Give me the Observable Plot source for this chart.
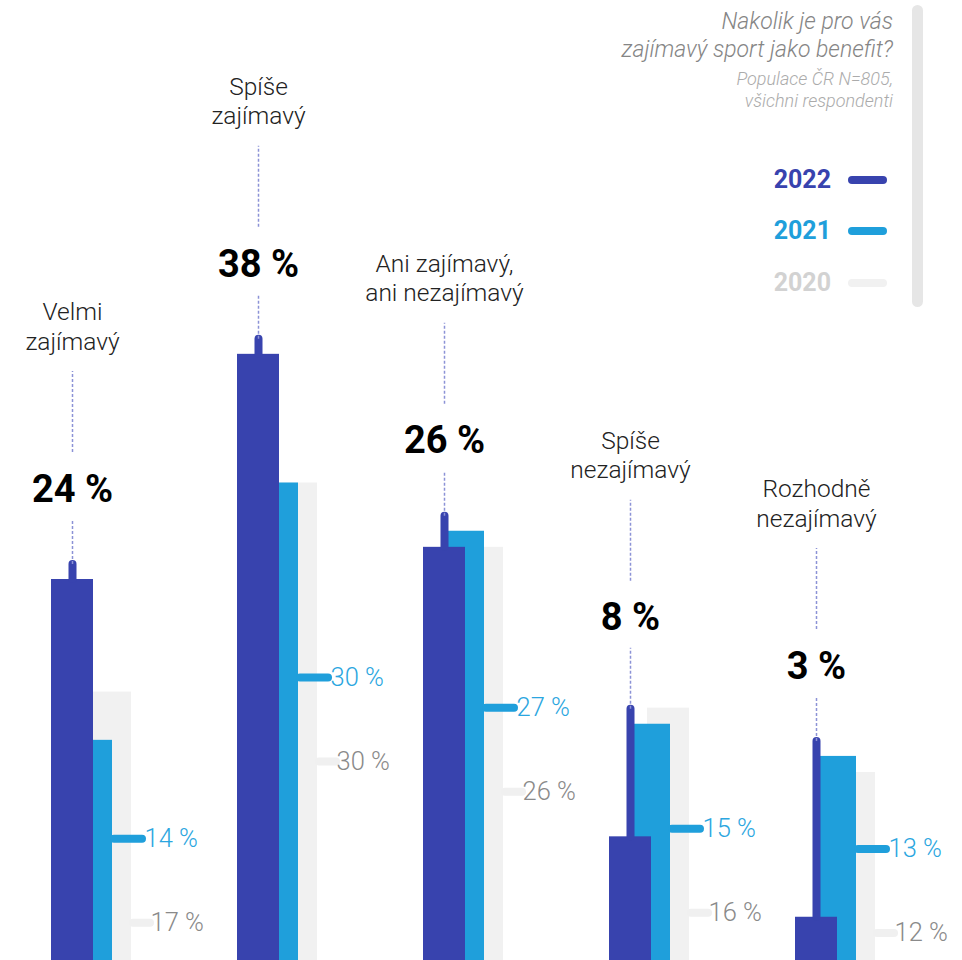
<!DOCTYPE html>
<html>
<head>
<meta charset="utf-8">
<script src="https://cdn.jsdelivr.net/npm/d3@7"></script>
<script src="https://cdn.jsdelivr.net/npm/@observablehq/plot@0.6"></script>
<style>
  html, body { margin: 0; padding: 0; background: #fff; }
  #wrap { position: relative; width: 962px; height: 960px; overflow: hidden; font-family: Roboto, sans-serif; }
  #wrap svg { position: absolute; left: 0; top: 0; }
  .title { position: absolute; right: 69px; top: 8px; text-align: right; font-size: 23px; line-height: 28px; font-style: italic; font-weight: 300; color: #858585; white-space: nowrap; }
  .subtitle { position: absolute; right: 69px; top: 68px; text-align: right; font-size: 18px; line-height: 22px; font-style: italic; font-weight: 300; color: #ababab; white-space: nowrap; }
  .leg { position: absolute; right: 131px; font-size: 25px; font-weight: 700; line-height: 30px; text-align: right; }
  .sw { position: absolute; left: 848px; width: 39px; height: 8px; border-radius: 4px; }
  .vbar { position: absolute; left: 912px; top: 5px; width: 11px; height: 302px; border-radius: 6px; background: #e6e6e6; }
</style>
</head>
<body>
<div id="wrap"></div>
<script>
// ---- data ----
const categories = ["Velmi\nzajímavý", "Spíše\nzajímavý", "Ani zajímavý,\nani nezajímavý", "Spíše\nnezajímavý", "Rozhodně\nnezajímavý"];
const years = ["2022", "2021", "2020"];
const values2022 = [24, 38, 26, 8, 3];
const values2021 = [14, 30, 27, 15, 13];
const values2020 = [17, 30, 26, 16, 12];
const titleLines = ["Nakolik je pro vás", "zajímavý sport jako benefit?"];
const subtitleLines = ["Populace ČR N=805,", "všichni respondenti"];
const yearColors = ["#3843ae", "#1f9fdb", "#f1f1f1"];
const yearTextColors = ["#3843ae", "#1f9fdb", "#d2d2d2"];

// ---- layout ----
const W = 962, H = 960;
const yDomain = [0, 60];
const yRange = [965, 0];
const yS = d3.scaleLinear().domain(yDomain).range(yRange);
const off = (v, px) => yS.invert(yS(v) + px); // screen offset (px, + = down) in data units

const rows = categories.map((c, i) => {
  const v22 = values2022[i], v21 = values2021[i], v20 = values2020[i];
  const stemTop = off(Math.max(v22, v21), -15);
  const L = off(Math.max(v22, v21, v20), -90);
  const lab21 = v21 * 0.627 - 0.9;
  const lab20 = off(lab21, 84);
  return {
    c, v22, v21, v20, stemTop, L,
    lowDotTop: off(L, 30),
    upDotBot: off(L, -37),
    upDotTop: off(L, -118),
    name: off(L, -164),
    lab21, lab20
  };
});

const dotted = {stroke: "#8c92d6", strokeWidth: 1.5, strokeDasharray: "3 2", dx: -19};

const chart = Plot.plot({
  width: W, height: H,
  marginLeft: 50.4, marginRight: 86, marginTop: 0, marginBottom: 0,
  x: {type: "band", domain: categories, paddingInner: 0.571, paddingOuter: 0, align: 0.5, axis: null},
  y: {domain: yDomain, range: yRange, axis: null},
  style: {fontFamily: "Roboto, sans-serif", background: "transparent", overflow: "hidden"},
  marks: [
    Plot.barY(rows, {x: "c", y: "v20", fill: yearColors[2], insetLeft: 38}),
    Plot.barY(rows, {x: "c", y: "v21", fill: yearColors[1], insetLeft: 25, insetRight: 19}),
    Plot.barY(rows, {x: "c", y: "v22", fill: yearColors[0], insetRight: 38}),
    Plot.tickY(rows, {x: "c", y: "lab20", stroke: "#f0f0f0", strokeWidth: 8, strokeLinecap: "round", insetLeft: 63, dx: 19}),
    Plot.tickY(rows, {x: "c", y: "lab21", stroke: yearColors[1], strokeWidth: 8, strokeLinecap: "round", insetLeft: 52, dx: 11}),
    Plot.ruleX(rows, {x: "c", y1: "v22", y2: "stemTop", stroke: yearColors[0], strokeWidth: 8, strokeLinecap: "round", dx: -19}),
    Plot.ruleX(rows, {x: "c", y1: "stemTop", y2: "lowDotTop", ...dotted}),
    Plot.ruleX(rows, {x: "c", y1: "upDotBot", y2: "upDotTop", ...dotted}),
    Plot.text(rows, {x: "c", y: "L", text: d => d.v22 + " %", fontSize: 38, fontWeight: "bold", fill: "#000", dx: -19}),
    Plot.text(rows, {x: "c", y: "name", text: "c", fontSize: 24.5, fontWeight: 300, fill: "#222", lineHeight: 1.2, dx: -19}),
    Plot.text(rows, {x: "c", y: "lab21", text: d => d.v21 + " %", textAnchor: "start", dx: 53, fontSize: 25.5, fontWeight: 300, fill: "#2ba6e0"}),
    Plot.text(rows, {x: "c", y: "lab20", text: d => d.v20 + " %", textAnchor: "start", dx: 59, fontSize: 25.5, fontWeight: 300, fill: "#8a8a8a"})
  ]
});

const wrap = document.getElementById("wrap");
wrap.appendChild(chart);

// ---- title + legend ----
const t = document.createElement("div"); t.className = "title"; t.innerHTML = titleLines.join("<br>"); wrap.appendChild(t);
const s = document.createElement("div"); s.className = "subtitle"; s.innerHTML = subtitleLines.join("<br>"); wrap.appendChild(s);
const vb = document.createElement("div"); vb.className = "vbar"; wrap.appendChild(vb);
const legY = [180, 231, 283];
years.forEach((yr, i) => {
  const l = document.createElement("div"); l.className = "leg";
  l.textContent = yr; l.style.top = (legY[i] - 15) + "px"; l.style.color = yearTextColors[i];
  wrap.appendChild(l);
  const sw = document.createElement("div"); sw.className = "sw";
  sw.style.top = (legY[i] - 4) + "px"; sw.style.background = yearColors[i];
  wrap.appendChild(sw);
});
</script>
</body>
</html>
